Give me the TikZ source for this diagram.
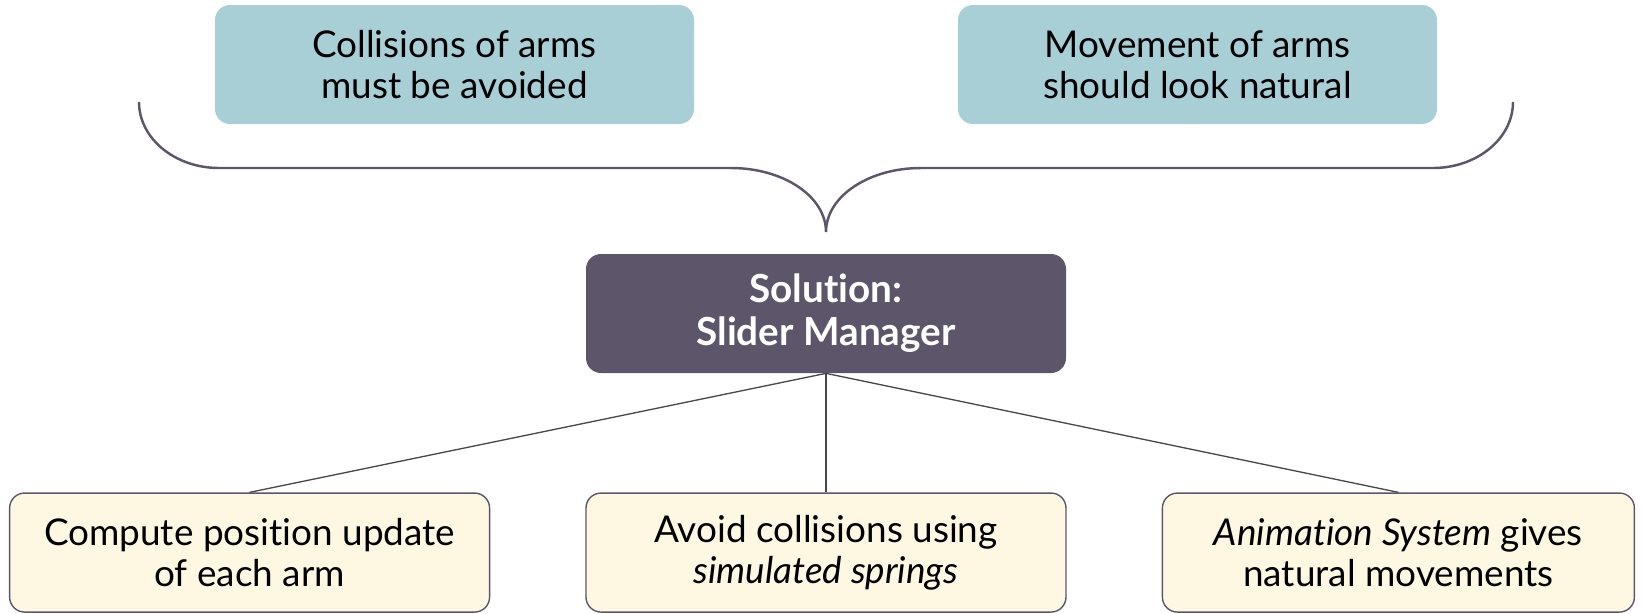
\documentclass[tikz,border=0pt]{standalone}
\usepackage{fontspec}
\setmainfont{Lato}[Ligatures=NoCommon]
\usetikzlibrary{positioning}
\definecolor{mytealbox}{RGB}{167, 207, 213}
\definecolor{mydarkpurple}{RGB}{93, 86, 106}
\definecolor{mycream}{RGB}{254, 248, 226}
\definecolor{mylinegray}{RGB}{72, 72, 72}

\begin{document}
\begin{tikzpicture}[font=\fontsize{21}{23.5}\selectfont,
  goalbox/.style={fill=mytealbox, rounded corners=0.3cm, minimum width=9.58cm,
    minimum height=2.38cm, align=center, inner sep=0pt},
  solbox/.style={fill=mydarkpurple, rounded corners=0.3cm, minimum width=9.6cm,
    minimum height=2.38cm, align=center, text=white, inner sep=0pt,
    font=\fontsize{22}{24.5}\selectfont\bfseries},
  taskbox/.style={fill=mycream, draw=mydarkpurple, line width=0.8pt,
    rounded corners=0.3cm, minimum width=9.6cm, minimum height=2.38cm,
    align=center, inner sep=0pt},
  link/.style={draw=mylinegray, line width=0.75pt},
  brace/.style={draw=mydarkpurple, line width=1.4pt}]
  \useasboundingbox (0,0) rectangle (32.84,-12.26);
  % Requirements
  \node[goalbox] (coll) at (9.09,-1.29) {Collisions of arms\\must be avoided};
  \node[goalbox] (move) at (23.95,-1.29) {Movement of arms\\should look natural};
  % Brace joining both requirements
  \draw[brace] (2.78,-2.04) .. controls (2.78,-2.77) and (3.5,-3.36) .. (4.38,-3.36)
    -- (14.62,-3.36) .. controls (15.67,-3.36) and (16.52,-3.93) .. (16.52,-4.64)
    .. controls (16.52,-3.93) and (17.37,-3.36) .. (18.42,-3.36)
    -- (28.66,-3.36) .. controls (29.54,-3.36) and (30.26,-2.77) .. (30.26,-2.04);
  % Solution
  \node[solbox] (sol) at (16.52,-6.27) {Solution:\\Slider Manager};
  % Tasks
  \node[taskbox, below=2.38cm of sol] (avoid) {Avoid collisions using\\\textit{simulated springs}};
  \node[taskbox, left=1.9cm of avoid] (update) {Compute position update\\of each arm};
  \node[taskbox, right=1.9cm of avoid, minimum width=9.44cm, anchor=west] (anim) {\textit{Animation System} gives\\natural movements};
  % Connectors
  \draw[link] (sol.south) -- (update.north);
  \draw[link] (sol.south) -- (avoid.north);
  \draw[link] (sol.south) -- (anim.north);
\end{tikzpicture}
\end{document}
